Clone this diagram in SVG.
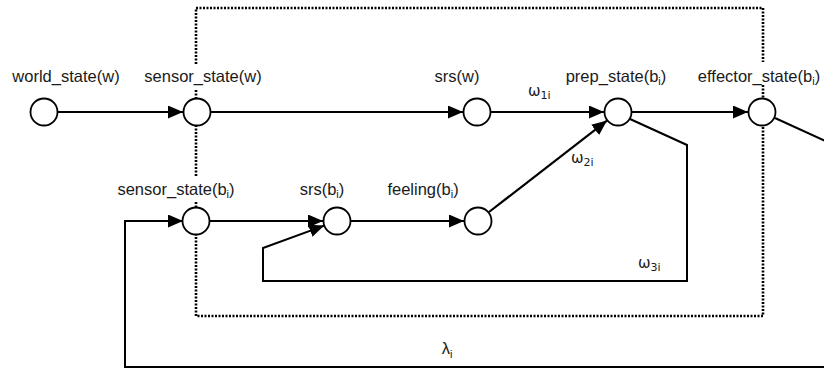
<svg xmlns="http://www.w3.org/2000/svg" width="824" height="369" viewBox="0 0 824 369">
<style>
.lbl{font-family:"Liberation Sans",Arial,sans-serif;font-size:16.5px;fill:#1a1a1a;text-anchor:middle}
.w{font-family:"DejaVu Sans","Liberation Sans",sans-serif;font-size:15px;fill:#1a1a1a}
.sub{font-size:11px}
.node{fill:#fff;stroke:#000;stroke-width:1.8}
.bg{fill:#fff}
.edge{fill:none;stroke:#000;stroke-width:2.2}
.loop{fill:none;stroke:#000;stroke-width:2}
.box{fill:none;stroke:#000;stroke-width:2.6;stroke-dasharray:2 1.5}
</style>
<defs>
<marker id="ah" markerUnits="userSpaceOnUse" markerWidth="16" markerHeight="14" refX="15" refY="6.5" orient="auto">
<path d="M0,0 L15,6.5 L0,13 z" fill="#000"/>
</marker>
</defs>
<rect class="box" x="196" y="8" width="567" height="308"/>
<g id="connectors">
<line class="edge" x1="58" y1="112" x2="183" y2="112" marker-end="url(#ah)"/>
<line class="edge" x1="211" y1="112" x2="463" y2="112" marker-end="url(#ah)"/>
<line class="edge" x1="491" y1="112" x2="604" y2="112" marker-end="url(#ah)"/>
<line class="edge" x1="632" y1="112" x2="748" y2="112" marker-end="url(#ah)"/>
<line class="edge" x1="210" y1="221" x2="323" y2="221" marker-end="url(#ah)"/>
<line class="edge" x1="351" y1="221" x2="464" y2="221" marker-end="url(#ah)"/>
<line class="edge" x1="489" y1="212" x2="607" y2="120.6" marker-end="url(#ah)"/>
<polyline class="loop" points="630,119 687,145 687,281 263,281 263,248 324.3,225.6" marker-end="url(#ah)"/>
<polyline class="loop" points="775,118 832,144 832,367 125,367 125,221 183,221" marker-end="url(#ah)"/>
<text class="w" x="528" y="96">ω<tspan class="sub" dy="3">1i</tspan></text>
<text class="w" x="571" y="163">ω<tspan class="sub" dy="3">2i</tspan></text>
<text class="w" x="638" y="268">ω<tspan class="sub" dy="3">3i</tspan></text>
<text class="lbl" x="447" y="354">λ<tspan class="sub" dy="4">i</tspan></text>
</g>
<g id="world_state_w"><circle class="node" cx="44" cy="112" r="13.5"/><text class="lbl" x="66" y="82">world_state(w)</text></g>
<g id="sensor_state_w"><rect class="bg" x="186" y="64" width="20" height="26"/><circle class="node" cx="197" cy="112" r="13.5"/><text class="lbl" x="203" y="82">sensor_state(w)</text></g>
<g id="srs_w"><circle class="node" cx="477" cy="112" r="13.5"/><text class="lbl" x="457" y="82">srs(w)</text></g>
<g id="prep_state_b"><circle class="node" cx="618" cy="112" r="13.5"/><text class="lbl" x="616" y="82">prep_state(b<tspan class="sub" dy="3">i</tspan><tspan dy="-3">)</tspan></text></g>
<g id="effector_state_b"><rect class="bg" x="752" y="62" width="22" height="22"/><circle class="node" cx="762" cy="112" r="13.5"/><text class="lbl" x="759" y="82">effector_state(b<tspan class="sub" dy="3">i</tspan><tspan dy="-3">)</tspan></text></g>
<g id="sensor_state_b"><rect class="bg" x="186" y="176" width="20" height="26"/><circle class="node" cx="196" cy="221" r="13.5"/><text class="lbl" x="176" y="195">sensor_state(b<tspan class="sub" dy="3">i</tspan><tspan dy="-3">)</tspan></text></g>
<g id="srs_b"><circle class="node" cx="337" cy="221" r="13.5"/><text class="lbl" x="322" y="195">srs(b<tspan class="sub" dy="3">i</tspan><tspan dy="-3">)</tspan></text></g>
<g id="feeling_b"><circle class="node" cx="478" cy="221" r="13.5"/><text class="lbl" x="423" y="195">feeling(b<tspan class="sub" dy="3">i</tspan><tspan dy="-3">)</tspan></text></g>
</svg>
